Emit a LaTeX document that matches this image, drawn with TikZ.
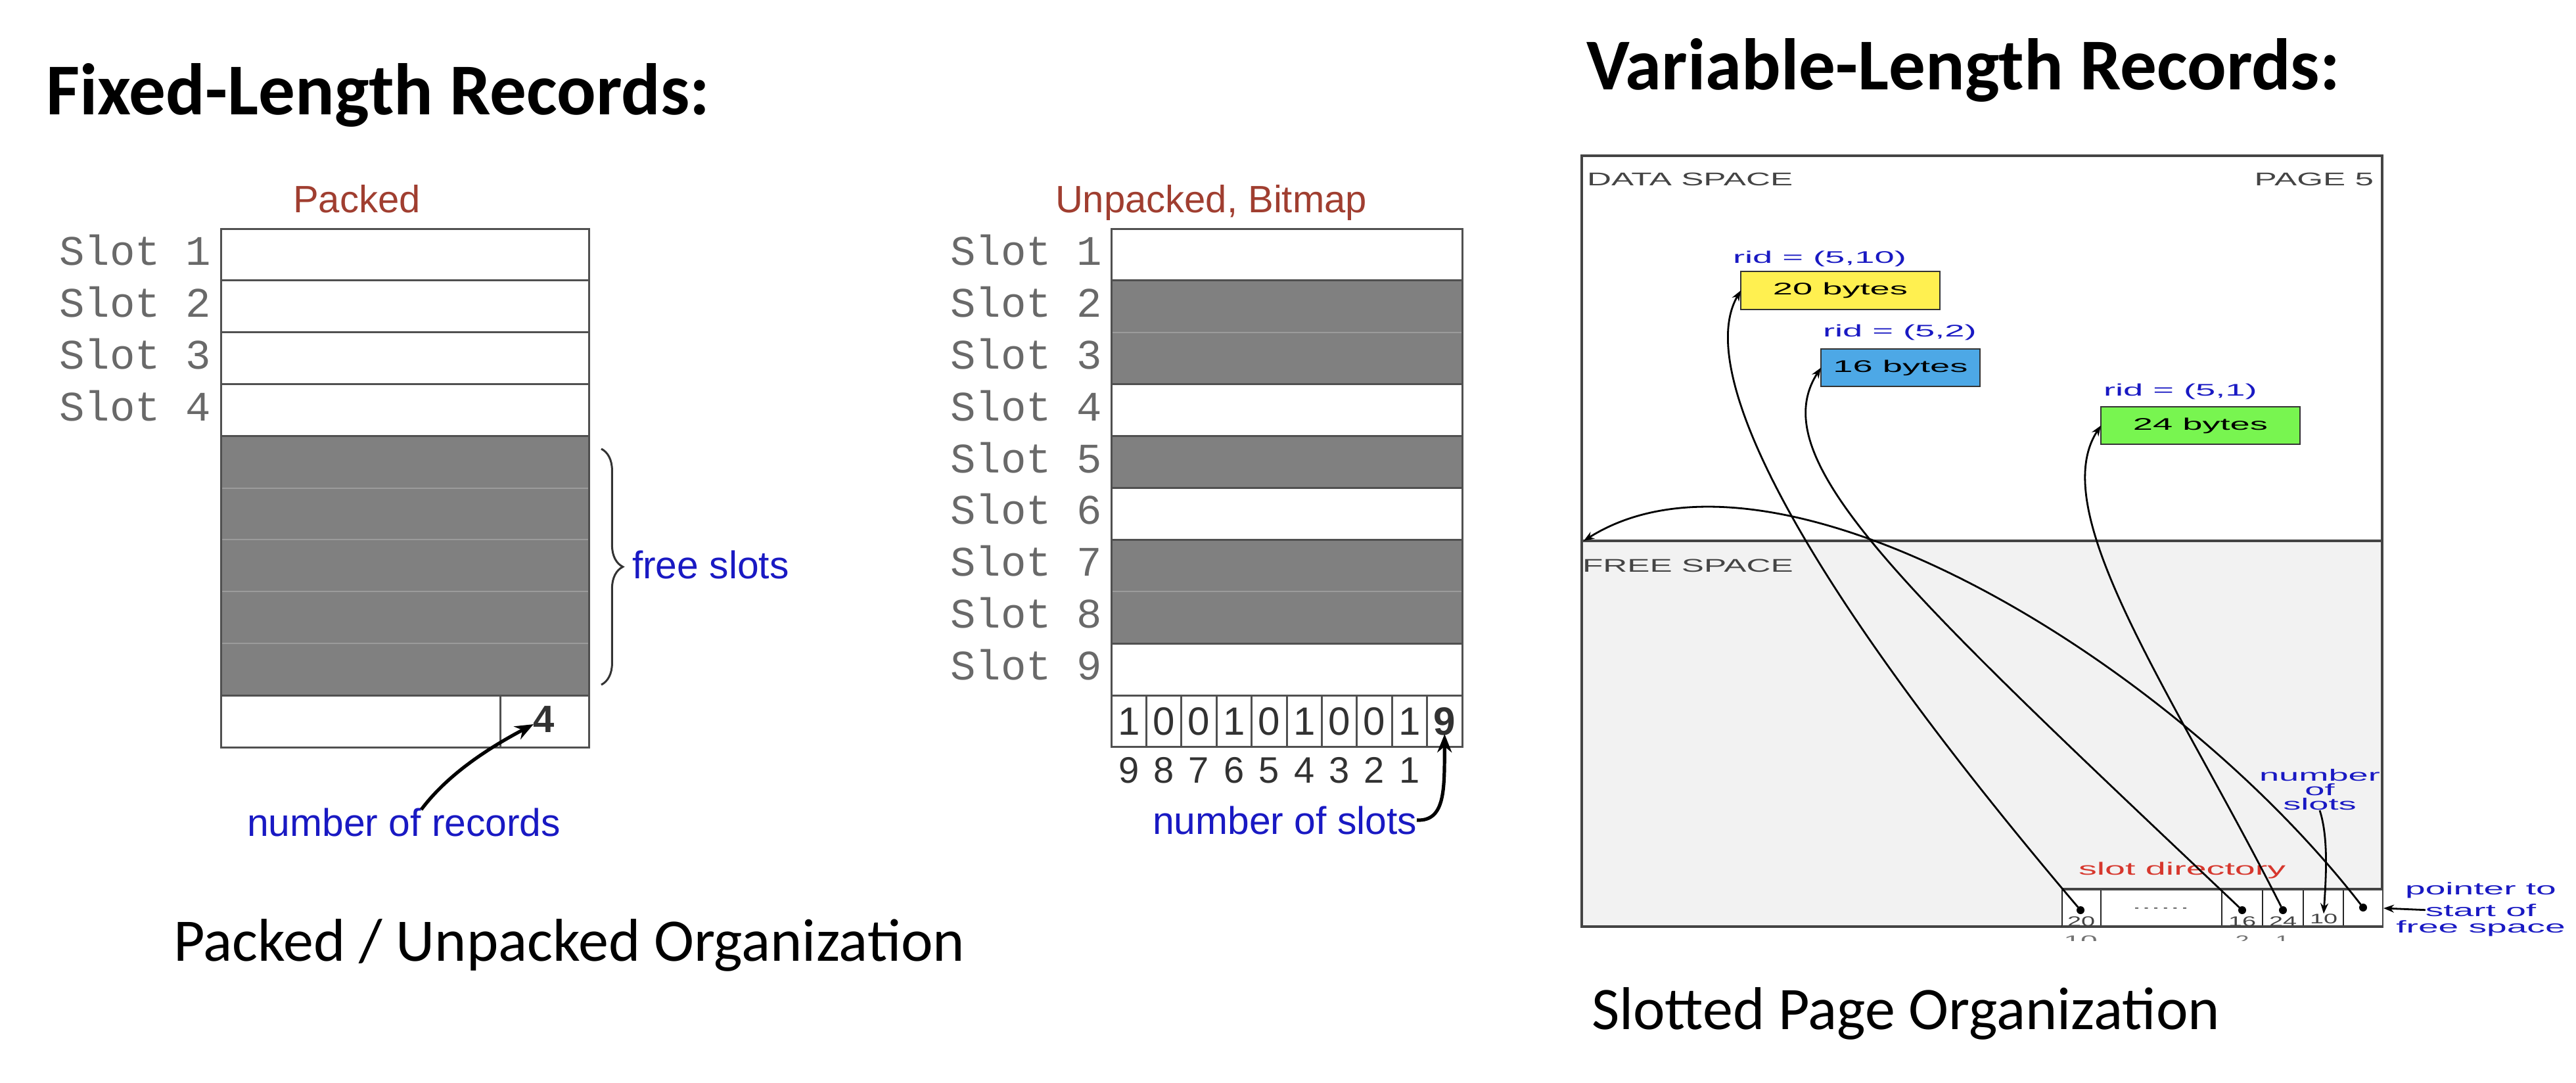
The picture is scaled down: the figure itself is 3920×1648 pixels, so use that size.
\documentclass[tikz,border=0pt]{standalone}
\usepackage{fontspec}
\usepackage{graphicx}
\setmainfont{Liberation Sans}
\newfontfamily\calibrifont{Carlito}
\newfontfamily\slotmono{Liberation Mono}
\usetikzlibrary{arrows.meta,decorations.pathreplacing,calc}

\definecolor{lblue}{RGB}{25,25,195}
\definecolor{ttlred}{RGB}{160,62,48}
\definecolor{sdred}{RGB}{215,55,45}
\definecolor{slotgray}{RGB}{105,105,105}
\definecolor{rowgray}{RGB}{128,128,128}
\definecolor{lightrow}{RGB}{155,155,155}
\definecolor{linegray}{RGB}{80,80,80}
\definecolor{digitgray}{RGB}{50,50,50}
\definecolor{pagegray}{RGB}{68,68,68}
\definecolor{freegray}{RGB}{242,242,242}
\definecolor{yel}{RGB}{255,240,80}
\definecolor{blu}{RGB}{77,168,230}
\definecolor{grn}{RGB}{120,245,80}

\newcommand{\wl}[2]{\scalebox{#1}[1]{#2}}
\def\ty{348}
\def\rh{78.9}

\tikzset{
  every node/.style={inner sep=0pt, outer sep=0pt},
  bigtitle/.style={anchor=base west, font=\calibrifont\bfseries\fontsize{27.8}{33}\selectfont},
  caption/.style={anchor=base west, font=\calibrifont\fontsize{23}{27}\selectfont},
  slotlbl/.style={anchor=base east, font=\slotmono\fontsize{16}{19}\selectfont, text=slotgray},
  tabtitle/.style={anchor=base, font=\fontsize{14.5}{17}\selectfont, text=ttlred},
  bluelbl/.style={anchor=base west, font=\fontsize{14.7}{17}\selectfont, text=lblue},
  gridline/.style={draw=linegray, line width=0.75pt},
  softline/.style={draw=lightrow, line width=0.5pt},
  bitcell/.style={draw=linegray, line width=0.75pt, minimum width=13.35pt, minimum height=19.7pt, font=\fontsize{15}{18}\selectfont, text=digitgray},
  undernum/.style={anchor=base, font=\fontsize{14}{17}\selectfont, text=digitgray},
  thickarrow/.style={-{Stealth[length=7pt,width=5.5pt]}, line width=1.3pt, black},
  pageline/.style={draw=pagegray, line width=0.8pt},
  divline/.style={draw=pagegray, line width=1.1pt},
  pagetext/.style={font=\fontsize{7}{8}\selectfont, text=pagegray},
  ridlbl/.style={anchor=base west, font=\fontsize{6.4}{8}\selectfont, text=lblue},
  recbox/.style={draw=black!80, line width=0.7pt, font=\fontsize{6.4}{8}\selectfont, text=black},
  dirline/.style={draw=black!85, line width=0.6pt},
  cellnum/.style={anchor=base, font=\fontsize{5.25}{6}\selectfont, text=pagegray},
  dotnode/.style={circle, fill=black, minimum size=3pt},
  thincurve/.style={-{Stealth[length=4pt,width=3pt]}, line width=0.7pt, black},
  smalllbl/.style={font=\fontsize{6.4}{7.2}\selectfont, text=lblue}
}

\begin{document}
\begin{tikzpicture}[x=0.25pt,y=-0.25pt]
\useasboundingbox[fill=white] (0,0) rectangle (3920,1648);

% ---------- titles ----------
\node[bigtitle] (tfix) at (70,175) {Fixed-Length Records:};
\node[bigtitle] (tvar) at (2414,137) {Variable-Length Records:};
\node[caption] (cpk) at (264,1462) {Packed / Unpacked Organization};
\node[caption] (csl) at (2422,1566) {Slotted Page Organization};

% ---------- packed ----------
\node[tabtitle] (hpk) at (543,324) {Packed};
\fill[rowgray] (336,{\ty+4*\rh}) rectangle (896,{\ty+9*\rh});
\foreach \k in {5,6,7,8} \draw[softline] (336,{\ty+\k*\rh}) -- (896,{\ty+\k*\rh});
\foreach \k in {1,2,3,4,9} \draw[gridline] (336,{\ty+\k*\rh}) -- (896,{\ty+\k*\rh});
\draw[gridline] (336,\ty) rectangle (896,{\ty+10*\rh});
\draw[gridline] (761,{\ty+9*\rh}) -- (761,{\ty+10*\rh});
\foreach \i in {1,2,3,4} \node[slotlbl] (ps\i) at (321,{\ty+(\i-0.5)*\rh+16}) {Slot \i};
\node[anchor=base, font=\bfseries\fontsize{14.5}{17}\selectfont, text=digitgray] (n4) at (828,1114) {4};
\draw[decorate, decoration={brace, amplitude=8.2pt}, draw=black!80, line width=0.75pt] (915,683) -- (915,1042);
\node[bluelbl] (fsl) at (962,880) {free slots};
\node[bluelbl] (nrec) at (376,1272) {number of records};
\coordinate (nrs) at (641,1232);
\draw[thickarrow] (nrs) .. controls (680,1180) and (740,1140) .. ([yshift=-2pt]n4.west);

% ---------- unpacked ----------
\node[tabtitle] (hup) at (1843,324) {Unpacked, Bitmap};
\fill[rowgray] (1691,{\ty+1*\rh}) rectangle (2225,{\ty+3*\rh});
\fill[rowgray] (1691,{\ty+4*\rh}) rectangle (2225,{\ty+5*\rh});
\fill[rowgray] (1691,{\ty+6*\rh}) rectangle (2225,{\ty+8*\rh});
\foreach \k in {2,7} \draw[softline] (1691,{\ty+\k*\rh}) -- (2225,{\ty+\k*\rh});
\foreach \k in {1,3,4,5,6,8,9} \draw[gridline] (1691,{\ty+\k*\rh}) -- (2225,{\ty+\k*\rh});
\draw[gridline] (1691,\ty) rectangle (2225,{\ty+9*\rh});
\foreach \i in {1,...,9} \node[slotlbl] (us\i) at (1677,{\ty+(\i-0.5)*\rh+16}) {Slot \i};
\foreach \j/\b in {1/1,2/0,3/0,4/1,5/0,6/1,7/0,8/0,9/1}
  \node[bitcell] (bc\j) at ({1691+(\j-0.5)*53.4},{\ty+9.5*\rh}) {\b};
\node[bitcell, font=\bfseries\fontsize{15}{18}\selectfont] (bc10) at ({1691+9.5*53.4},{\ty+9.5*\rh}) {9};
\foreach \j/\n in {1/9,2/8,3/7,4/6,5/5,6/4,7/3,8/2,9/1}
  \node[undernum] (un\j) at ({1691+(\j-0.5)*53.4},1191) {\n};
\node[bluelbl] (nsl) at (1754,1269) {number of slots};
\draw[thickarrow] (nsl.east) .. controls (2200,1250) and (2198,1200) .. ([yshift=5pt]bc10.south);

% ---------- slotted page ----------
\fill[freegray] (2407,823) rectangle (3625,1410);
\draw[pageline] (2407,237) rectangle (3625,1410);
\draw[divline] (2407,823) -- (3625,823);
\node[pagetext, anchor=base west] (dsp) at (2415,282) {\wl{1.83}{DATA SPACE}};
\node[pagetext, anchor=base east] (pg5) at (3612,282) {\wl{1.83}{PAGE 5}};
\node[pagetext, anchor=base west] (fsp) at (2408,870) {\wl{1.83}{FREE SPACE}};

% slot directory
\fill[white] (3138,1353) rectangle (3625,1410);
\foreach \xx in {3138,3197,3381,3443,3505,3566} \draw[dirline] (\xx,1353) -- (\xx,1410);
\draw[divline] (3138,1353) -- (3625,1353);
\draw[pageline] (3138,1410) -- (3625,1410);
\node[cellnum] (c20) at (3167,1409) {\wl{1.8}{20}};
\node[cellnum] (c16) at (3412,1409) {\wl{1.8}{16}};
\node[cellnum] (c24) at (3474,1409) {\wl{1.8}{24}};
\node[cellnum] (c10) at (3536,1405) {\wl{1.8}{10}};
\node[cellnum, text=black!55] (cdots) at (3288,1383) {\wl{2.5}{......}};
\begin{scope}
  \clip (3100,1413) rectangle (3520,1431);
  \node[cellnum, text=black!55] (u10) at (3166,1438) {\wl{2.2}{10}};
  \node[cellnum, text=black!55] (u2) at (3412,1438) {\wl{1.8}{2}};
  \node[cellnum, text=black!55] (u1) at (3473,1438) {\wl{1.8}{1}};
\end{scope}
\node[dotnode] (d1) at (3166,1385) {};
\node[dotnode] (d3) at (3412,1385) {};
\node[dotnode] (d4) at (3474,1385) {};
\node[dotnode] (d6) at (3596,1381) {};

\node[anchor=base west, font=\fontsize{6.75}{8}\selectfont, text=sdred] (sdir) at (3163,1331) {\wl{2.06}{slot directory}};

% records
\node[ridlbl] (r1) at (2637,400) {\wl{2.12}{rid = (5,10)}};
\node[recbox, fill=yel, minimum width=75.75pt, minimum height=14.5pt] (yb) at (2800.5,442) {\wl{2.12}{20 bytes}};
\node[ridlbl] (r2) at (2774,513) {\wl{2.12}{rid = (5,2)}};
\node[recbox, fill=blu, minimum width=60.5pt, minimum height=14.25pt] (bb) at (2892,559.5) {\wl{2.12}{16 bytes}};
\node[ridlbl] (r3) at (3201,602) {\wl{2.12}{rid = (5,1)}};
\node[recbox, fill=grn, minimum width=75.75pt, minimum height=14.25pt] (gb) at (3348.5,647.5) {\wl{2.12}{24 bytes}};

% labels at right
\node[smalllbl, anchor=north, align=center, font=\fontsize{6.25}{5.6}\selectfont] (nos) at (3530,1170) {\wl{2.17}{number}\\\wl{2.17}{of}\\\wl{2.17}{slots}};
\node[smalllbl, anchor=base, font=\fontsize{6.5}{7}\selectfont] (pt1) at (3775,1361) {\wl{2.12}{pointer to}};
\node[smalllbl, anchor=base, font=\fontsize{6.5}{7}\selectfont] (pt2) at (3775,1394) {\wl{2.12}{start of}};
\node[smalllbl, anchor=base, font=\fontsize{6.5}{7}\selectfont] (pt3) at (3775,1419) {\wl{2.12}{free space}};
\coordinate (pgR) at (3627,1382);
\coordinate (fsL) at (2410,823);

% pointers
\draw[thincurve] (d1) .. controls (2720,860) and (2580,560) .. (yb.west);
\draw[thincurve] (d3) .. controls (2900,900) and (2680,700) .. (bb.west);
\draw[thincurve] (d4) .. controls (3310,1060) and (3110,780) .. (gb.west);
\draw[thincurve] (d6) .. controls (3300,1000) and (2700,640) .. (fsL);
\draw[thincurve] (nos.south) .. controls (3543,1273) and (3540,1330) .. (c10.north);
\draw[thincurve] (pt2.west) -- (pgR);
\end{tikzpicture}
\end{document}
